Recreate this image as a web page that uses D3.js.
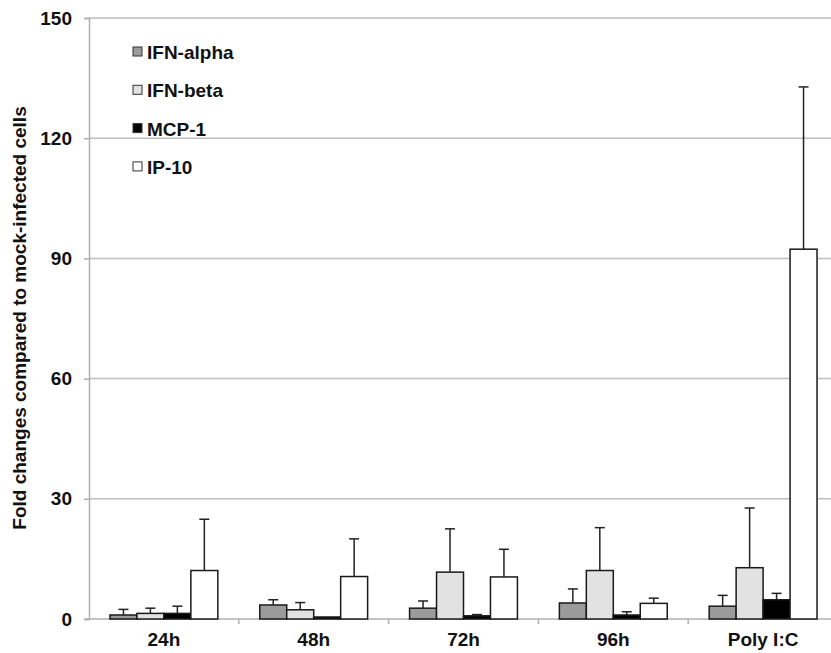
<!DOCTYPE html>
<html>
<head>
<meta charset="utf-8">
<script src="https://cdn.jsdelivr.net/npm/d3@7"></script>
<style>
  body { margin: 0; background: #fff; }
  svg text { font-family: "Liberation Sans", Arial, sans-serif; font-weight: bold; fill: #111; }
</style>
</head>
<body>
<svg id="canvas" width="831" height="653"></svg>
<script>
// categories along x
const groups = ['24h', '48h', '72h', '96h', 'Poly I:C']
const seriesNames = ['IFN-alpha', 'IFN-beta', 'MCP-1', 'IP-10']
const seriesColors = ['#9b9b9b', '#e2e2e2', '#000000', '#ffffff']

// bar heights per series, one value per group
const ifnAlpha = [1.0, 3.5, 2.7, 4.0, 3.2]
const ifnBeta = [1.4, 2.3, 11.7, 12.1, 12.8]
const mcp1 = [1.4, 0.5, 0.8, 1.0, 4.8]
const ip10 = [12.1, 10.6, 10.5, 3.9, 92.3]

// top of error bar per series
const ifnAlphaErr = [2.4, 4.8, 4.5, 7.5, 5.9]
const ifnBetaErr = [2.7, 4.1, 22.5, 22.8, 27.7]
const mcp1Err = [3.2, null, 1.1, 1.8, 6.4]
const ip10Err = [24.9, 20.0, 17.4, 5.2, 132.8]

const yTicks = [0, 30, 60, 90, 120, 150]

let values = [ifnAlpha, ifnBeta, mcp1, ip10]
let errors = [ifnAlphaErr, ifnBetaErr, mcp1Err, ip10Err]

let canvas = d3.select('#canvas')

let plotLeft = 89, plotTop = 18, plotBottom = 619, plotRight = 838

let x0 = d3.scaleBand()
    .domain(groups)
    .range([plotLeft, plotRight])
    .paddingInner(0.28)
    .paddingOuter(0.14)

let x1 = d3.scaleBand()
    .domain(seriesNames)
    .range([0, x0.bandwidth()])

let y = d3.scaleLinear()
    .domain([0, 150])
    .range([plotBottom, plotTop])

// gridlines
canvas.append('g')
    .selectAll('line')
    .data(yTicks.filter(d => d > 0))
    .enter()
    .append('line')
    .attr('x1', plotLeft)
    .attr('x2', 831)
    .attr('y1', d => y(d))
    .attr('y2', d => y(d))
    .attr('stroke', '#bdbdbd')
    .attr('stroke-width', 1.5)

// y axis
let yAxis = d3.axisLeft(y).tickValues(yTicks).tickSize(5).tickPadding(12)
let yG = canvas.append('g')
    .attr('transform', 'translate(' + plotLeft + ',0)')
    .call(yAxis)
yG.select('.domain').attr('stroke', '#b0b0b0').attr('stroke-width', 1.5)
yG.selectAll('.tick line').attr('stroke', '#b0b0b0').attr('stroke-width', 1.5)
yG.selectAll('.tick text').style('font-size', '19px').attr('fill', '#111')

// x axis: line with ticks at group boundaries
let step = x0.step()
let bounds = groups.map((g, i) => x0(g) - x0.paddingInner() * step / 2)
canvas.append('line')
    .attr('x1', plotLeft - 4)
    .attr('x2', 831)
    .attr('y1', plotBottom)
    .attr('y2', plotBottom)
    .attr('stroke', '#b0b0b0')
    .attr('stroke-width', 1.5)
canvas.append('g')
    .selectAll('line')
    .data(bounds.slice(1))
    .enter()
    .append('line')
    .attr('x1', d => d)
    .attr('x2', d => d)
    .attr('y1', plotBottom)
    .attr('y2', plotBottom + 5)
    .attr('stroke', '#b0b0b0')
    .attr('stroke-width', 1.5)

canvas.append('g')
    .selectAll('text')
    .data(groups)
    .enter()
    .append('text')
    .attr('x', d => x0(d) + x0.bandwidth() / 2)
    .attr('y', 646)
    .attr('text-anchor', 'middle')
    .style('font-size', '19px')
    .text(d => d)

// bars
let groupG = canvas.append('g')
    .selectAll('g')
    .data(groups)
    .enter()
    .append('g')
    .attr('transform', d => 'translate(' + x0(d) + ',0)')

groupG.selectAll('rect')
    .data((g, gi) => seriesNames.map((s, si) => ({ s: s, si: si, v: values[si][gi], e: errors[si][gi] })))
    .enter()
    .append('rect')
    .attr('x', d => x1(d.s))
    .attr('y', d => y(d.v))
    .attr('width', x1.bandwidth())
    .attr('height', d => y(0) - y(d.v))
    .attr('fill', d => seriesColors[d.si])
    .attr('stroke', '#1a1a1a')
    .attr('stroke-width', 1.5)

// error bars (upper only)
let errG = groupG.selectAll('g.err')
    .data((g, gi) => seriesNames.map((s, si) => ({ s: s, si: si, v: values[si][gi], e: errors[si][gi] })).filter(d => d.e != null))
    .enter()
    .append('g')
    .attr('class', 'err')

errG.append('line')
    .attr('x1', d => x1(d.s) + x1.bandwidth() / 2)
    .attr('x2', d => x1(d.s) + x1.bandwidth() / 2)
    .attr('y1', d => y(d.v))
    .attr('y2', d => y(d.e))
    .attr('stroke', '#222')
    .attr('stroke-width', 1.5)

errG.append('line')
    .attr('x1', d => x1(d.s) + x1.bandwidth() / 2 - 5)
    .attr('x2', d => x1(d.s) + x1.bandwidth() / 2 + 5)
    .attr('y1', d => y(d.e))
    .attr('y2', d => y(d.e))
    .attr('stroke', '#222')
    .attr('stroke-width', 1.5)

// y title
canvas.append('text')
    .attr('transform', 'translate(26,' + 318 + ') rotate(-90)')
    .attr('text-anchor', 'middle')
    .style('font-size', '19px')
    .text('Fold changes compared to mock-infected cells')

// legend
let legend = canvas.append('g')
    .selectAll('g')
    .data(seriesNames)
    .enter()
    .append('g')
    .attr('transform', (d, i) => 'translate(133,' + (52 + i * 38.3) + ')')

legend.append('rect')
    .attr('x', 0)
    .attr('y', -5)
    .attr('width', 9)
    .attr('height', 9)
    .attr('fill', (d, i) => seriesColors[i])
    .attr('stroke', '#333')
    .attr('stroke-width', 1)

legend.append('text')
    .attr('x', 14)
    .attr('y', 7)
    .style('font-size', '19px')
    .text(d => d)
</script>
</body>
</html>
